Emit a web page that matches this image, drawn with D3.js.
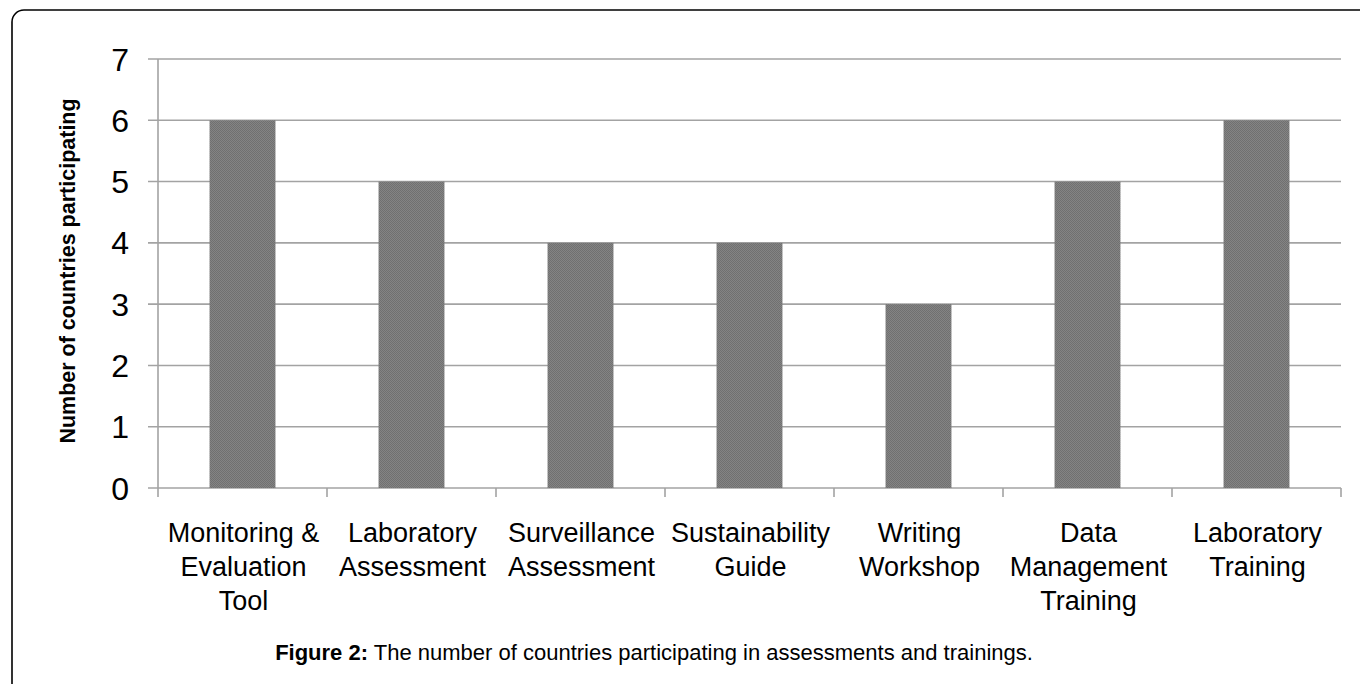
<!DOCTYPE html>
<html>
<head>
<meta charset="utf-8">
<script src="https://cdn.jsdelivr.net/npm/d3@7"></script>
<style>
  html, body { margin: 0; padding: 0; background: #fff; }
  svg { display: block; font-family: "Liberation Sans", Arial, sans-serif; }
</style>
</head>
<body>
<svg id="chart" width="1360" height="684"></svg>
<script>
// Programmes and how many countries took part in each
const categories = [
  "Monitoring & Evaluation Tool",
  "Laboratory Assessment",
  "Surveillance Assessment",
  "Sustainability Guide",
  "Writing Workshop",
  "Data Management Training",
  "Laboratory Training"
];
const categoryLines = [
  ["Monitoring &", "Evaluation", "Tool"],
  ["Laboratory", "Assessment"],
  ["Surveillance", "Assessment"],
  ["Sustainability", "Guide"],
  ["Writing", "Workshop"],
  ["Data", "Management", "Training"],
  ["Laboratory", "Training"]
];
const countries = [6, 5, 4, 4, 3, 5, 6];
const yTicks = [0, 1, 2, 3, 4, 5, 6, 7];
const yTitle = "Number of countries participating";
const captionBold = "Figure 2:";
const captionText = " The number of countries participating in assessments and trainings.";

const svg = d3.select("#chart");

// Frame around the figure
svg.append("rect")
  .attr("x", 12).attr("y", 10)
  .attr("width", 1420).attr("height", 720)
  .attr("rx", 12).attr("ry", 12)
  .attr("fill", "none").attr("stroke", "#000").attr("stroke-width", 1.6);

// Bar fill: fine dithered grey
const defs = svg.append("defs");
const pat = defs.append("pattern")
  .attr("id", "dither").attr("patternUnits", "userSpaceOnUse")
  .attr("width", 2).attr("height", 2);
pat.append("rect").attr("width", 2).attr("height", 2).attr("fill", "#848484");
pat.append("rect").attr("width", 1).attr("height", 1).attr("fill", "#707070");
pat.append("rect").attr("x", 1).attr("y", 1).attr("width", 1).attr("height", 1).attr("fill", "#707070");

const plot = { left: 158, right: 1341, top: 59, bottom: 488 };

const x = d3.scaleBand()
  .domain(categories)
  .range([plot.left, plot.right])
  .padding(0);

const y = d3.scaleLinear()
  .domain([0, 7])
  .range([plot.bottom, plot.top]);

const gridColor = "#a3a3a3";

// Horizontal gridlines with left tick stubs
svg.append("g")
  .selectAll("line")
  .data(yTicks)
  .join("line")
  .attr("x1", plot.left - 10)
  .attr("x2", plot.right)
  .attr("y1", d => y(d))
  .attr("y2", d => y(d))
  .attr("stroke", gridColor)
  .attr("stroke-width", 1.6);

// Y axis line
svg.append("line")
  .attr("x1", plot.left).attr("x2", plot.left)
  .attr("y1", y(7)).attr("y2", y(0))
  .attr("stroke", gridColor).attr("stroke-width", 1.6);

// Category boundary ticks below the x axis
const boundaries = categories.map(c => x(c)).concat([x(categories[categories.length - 1]) + x.bandwidth()]);
svg.append("g")
  .selectAll("line")
  .data(boundaries)
  .join("line")
  .attr("x1", d => d).attr("x2", d => d)
  .attr("y1", y(0)).attr("y2", y(0) + 9)
  .attr("stroke", gridColor).attr("stroke-width", 1.6);

// Bars
const barFrac = 0.39;
const barW = x.bandwidth() * barFrac;
svg.append("g")
  .selectAll("rect")
  .data(categories.map((c, i) => ({ c, v: countries[i] })))
  .join("rect")
  .attr("x", d => x(d.c) + (x.bandwidth() - barW) / 2)
  .attr("y", d => y(d.v))
  .attr("width", barW)
  .attr("height", d => y(0) - y(d.v))
  .attr("fill", "url(#dither)");

// Y tick labels
svg.append("g")
  .selectAll("text")
  .data(yTicks)
  .join("text")
  .attr("x", 129)
  .attr("y", d => y(d))
  .attr("dy", "0.36em")
  .attr("text-anchor", "end")
  .attr("font-size", 32)
  .attr("fill", "#000")
  .text(d => d);

// Category labels (multi-line)
const labelG = svg.append("g");
categories.forEach((c, i) => {
  const cx = x(c) + x.bandwidth() / 2 + 1;
  const t = labelG.append("text")
    .attr("x", cx)
    .attr("y", 542)
    .attr("text-anchor", "middle")
    .attr("font-size", 27)
    .attr("fill", "#000");
  categoryLines[i].forEach((line, j) => {
    t.append("tspan")
      .attr("x", cx)
      .attr("y", 542 + j * 34)
      .text(line);
  });
});

// Y axis title
svg.append("text")
  .attr("transform", "translate(75,271) rotate(-90)")
  .attr("text-anchor", "middle")
  .attr("font-size", 21.5)
  .attr("font-weight", "bold")
  .attr("fill", "#000")
  .text(yTitle);

// Caption
const cap = svg.append("text")
  .attr("x", 654)
  .attr("y", 660)
  .attr("text-anchor", "middle")
  .attr("font-size", 22)
  .attr("fill", "#000");
cap.append("tspan").attr("font-weight", "bold").text(captionBold);
cap.append("tspan").text(captionText);
</script>
</body>
</html>
